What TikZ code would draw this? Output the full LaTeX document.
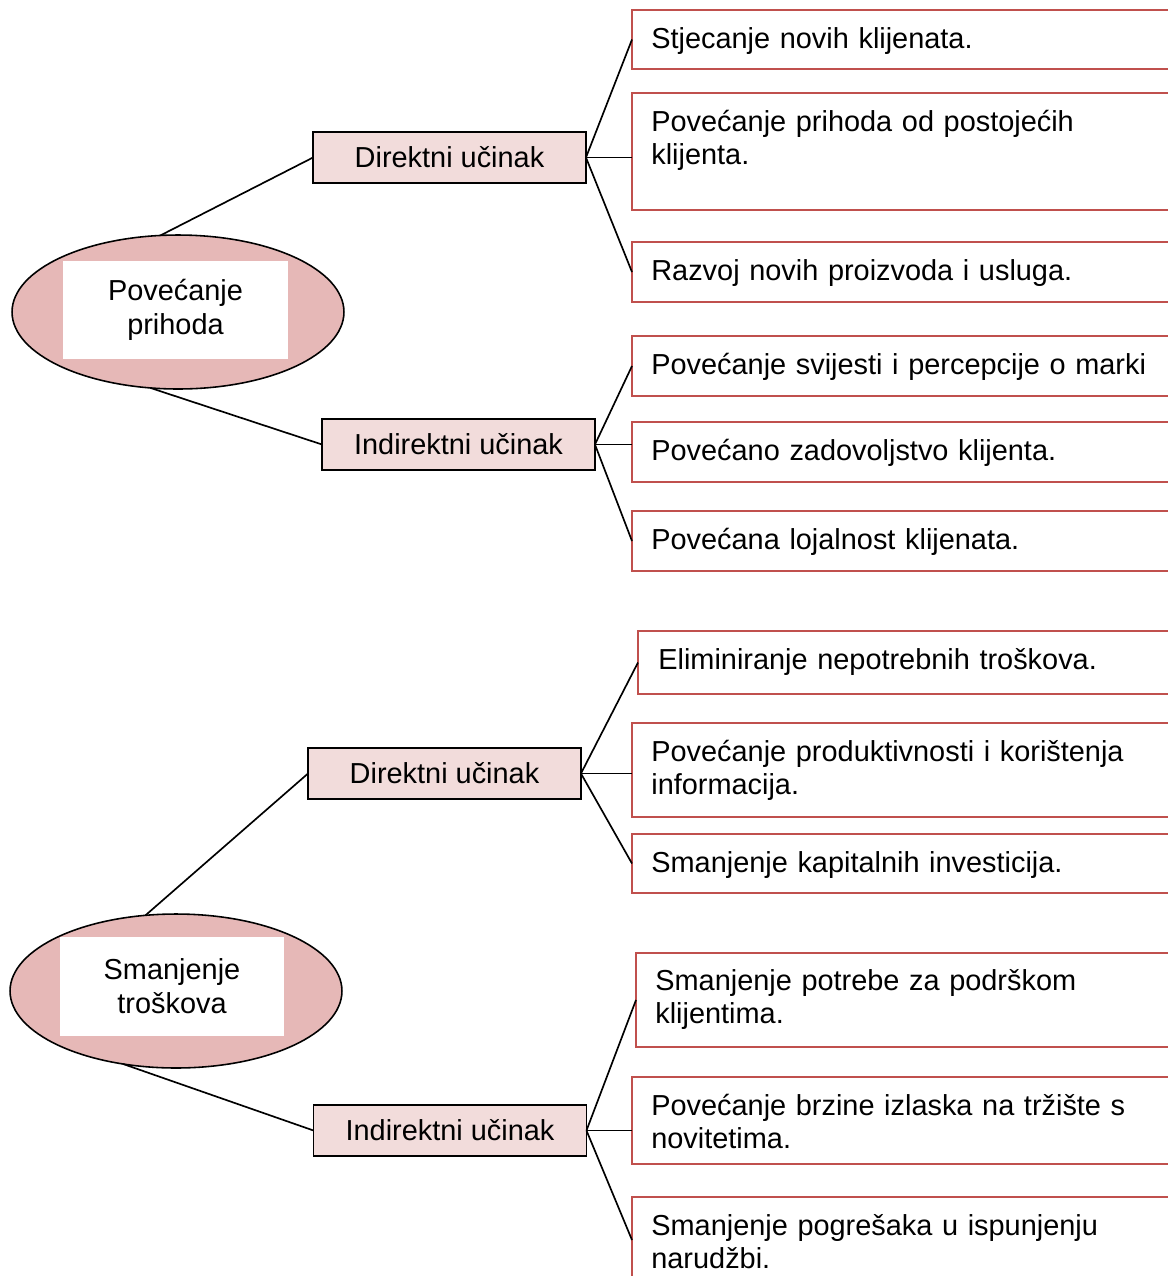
\documentclass[tikz,border=0pt]{standalone}
\usepackage{fontspec}
\setmainfont{Liberation Sans}
\usetikzlibrary{shapes.geometric}
\definecolor{boxred}{RGB}{192,80,77}
\definecolor{midfill}{RGB}{242,220,219}
\definecolor{ovalfill}{RGB}{230,184,183}
\tikzset{
  oval/.style={ellipse,draw=black,fill=ovalfill,line width=0.9pt,minimum width=66.4mm,minimum height=30.8mm,inner sep=0pt,outer sep=0pt},
  ovaltext/.style={fill=white,minimum width=45mm,minimum height=19.7mm,align=center,inner sep=0pt},
  effect/.style={draw=black,fill=midfill,line width=0.9pt,minimum width=54.6mm,minimum height=10.2mm,inner sep=0pt,outer sep=0pt,text height=2.2ex,text depth=0pt},
  item/.style={draw=boxred,line width=0.9pt,anchor=north west,minimum width=109.6mm,inner sep=0pt,outer sep=0pt},
  itemtext/.style={anchor=base west,inner sep=0pt,text width=120mm,align=left},
  conn/.style={line width=0.95pt}
}
\begin{document}
\begin{tikzpicture}[x=0.02cm,y=-0.02cm,font={\fontsize{16.45pt}{19.3pt}\selectfont}]
    \useasboundingbox (0,0) rectangle (1168,1276);
    \clip (0,0) rectangle (1168,1276);

    \node[oval] (pr) at (178,312) {};
    \node[ovaltext] (prt) at (175.5,310) {Povećanje\\prihoda};
    \node[effect] (d1) at (449.5,157.5) {Direktni učinak};
    \node[effect] (i1) at (458.5,444.5) {Indirektni učinak};

    \node[item,minimum height=11.8mm] (b1) at (632,10) {};
    \node[item,minimum height=23.4mm] (b2) at (632,93) {};
    \node[item,minimum height=12mm] (b3) at (632,242) {};
    \node[item,minimum height=12mm] (b4) at (632,336) {};
    \node[item,minimum height=12mm] (b5) at (632,422) {};
    \node[item,minimum height=12mm] (b6) at (632,511) {};
    \node[itemtext] (t1) at ([shift={(19,38)}]b1.north west) {Stjecanje novih klijenata.};
    \node[itemtext] (t2) at ([shift={(19,38)}]b2.north west) {Povećanje prihoda od postojećih\\klijenta.};
    \node[itemtext] (t3) at ([shift={(19,38)}]b3.north west) {Razvoj novih proizvoda i usluga.};
    \node[itemtext] (t4) at ([shift={(19,38)}]b4.north west) {Povećanje svijesti i percepcije o marki};
    \node[itemtext] (t5) at ([shift={(19,38)}]b5.north west) {Povećano zadovoljstvo klijenta.};
    \node[itemtext] (t6) at ([shift={(19,38)}]b6.north west) {Povećana lojalnost klijenata.};

    \draw[conn] (pr.103) -- (d1.west);
    \draw[conn] (pr.250) -- (i1.west);
    \draw[conn] (d1.east) -- (b1.west);
    \draw[conn] (d1.east) -- (d1.east -| b2.west);
    \draw[conn] (d1.east) -- (b3.west);
    \draw[conn] (i1.east) -- (b4.west);
    \draw[conn] (i1.east) -- (i1.east -| b5.west);
    \draw[conn] (i1.east) -- (b6.west);

    \node[oval] (tr) at (176,991) {};
    \node[ovaltext] (trt) at (172,986.5) {Smanjenje\\troškova};
    \node[effect] (d2) at (444.5,773.5) {Direktni učinak};
    \node[effect] (i2) at (450,1130.5) {Indirektni učinak};

    \node[item,minimum height=12.6mm,minimum width=108.4mm] (c1) at (638,631) {};
    \node[item,minimum height=18.8mm] (c2) at (632,723) {};
    \node[item,minimum height=11.8mm] (c3) at (632,834) {};
    \node[item,minimum height=18.8mm,minimum width=108.8mm] (c4) at (636,953) {};
    \node[item,minimum height=17.4mm] (c5) at (632,1077) {};
    \node[item,minimum height=17.2mm] (c6) at (632,1197) {};
    \node[itemtext] (s1) at ([shift={(20,38)}]c1.north west) {Eliminiranje nepotrebnih troškova.};
    \node[itemtext] (s2) at ([shift={(19,38)}]c2.north west) {Povećanje produktivnosti i korištenja\\informacija.};
    \node[itemtext] (s3) at ([shift={(19,38)}]c3.north west) {Smanjenje kapitalnih investicija.};
    \node[itemtext] (s4) at ([shift={(19,37)}]c4.north west) {Smanjenje potrebe za podrškom\\klijentima.};
    \node[itemtext] (s5) at ([shift={(19,38)}]c5.north west) {Povećanje brzine izlaska na tržište s\\novitetima.};
    \node[itemtext] (s6) at ([shift={(19,38)}]c6.north west) {Smanjenje pogrešaka u ispunjenju\\narudžbi.};

    \draw[conn] (tr.112) -- (d2.west);
    \draw[conn] (tr.234) -- (i2.west);
    \draw[conn] (d2.east) -- (c1.west);
    \draw[conn] (d2.east) -- (d2.east -| c2.west);
    \draw[conn] (d2.east) -- (c3.west);
    \draw[conn] (i2.east) -- (c4.west);
    \draw[conn] (i2.east) -- (i2.east -| c5.west);
    \draw[conn] (i2.east) -- (c6.west);
\end{tikzpicture}
\end{document}
